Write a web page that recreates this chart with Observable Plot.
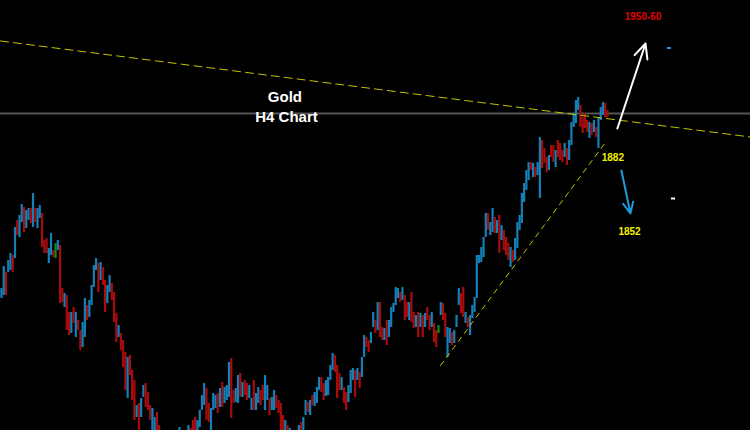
<!DOCTYPE html>
<html><head><meta charset="utf-8">
<script src="https://cdn.jsdelivr.net/npm/d3@7"></script>
<script src="https://cdn.jsdelivr.net/npm/@observablehq/plot@0.6"></script>
<style>html,body{margin:0;padding:0;background:#000;overflow:hidden}</style>
</head><body><div id="chart"></div>
<script>
// H4 bar ranges (price)
const high = [
 1828.8,1837.6,1835.2,1840,1842.8,1842,1853.2,1856,1858,1862.4, 1861.2,1860,1860.8,1860.8,1866.8,1860.8,1860.8,1862,1858.8,1848,
 1848.8,1844.8,1850.8,1844,1846.8,1848,1846,1828.8,1826.8,1826, 1819.2,1819.2,1821.2,1819.2,1816,1812,1815.2,1824.8,1822,1824,
 1830,1838,1840.8,1838.8,1839.2,1837.2,1832,1830,1834,1830.8, 1827.2,1818.8,1814,1810.8,
 1808,1803.2,1801.2,1802,1796,1792,1782,1782.8,1784.8,1790, 1790.8,1787.2,1782,1780.8,1777.2,1779.2,1774,1772,1768,1770,
 1768.8,1766,1768,1771.2,1769.6,1773.2,1770.8,1769.6,1772,1774, 1772.8,1776,1777.2,1776,1780,1786,1790.8,1788.8,1782.8,1780.8,
 1786.8,1786,1786.8,1788.8,1791.2,1789.2,1790,1799.2,1800.8,1788, 1788.8,1794,1794.8,1791.2,1792,1790.8,1790,1784.8,
 1792,1786.8,1789.2,1788,1790,1794,1790,1784.8,1785.2,1788, 1786,1784,1782.8,1778,1776,1774,1772.8,1771.2,1770,1772,
 1774,1775.2,1777.2,1784,1783.2,1784,1786,1787.2,1789.2,1793.2, 1793.2,1790.8,1792,1793.2,1798,1802.8,1802,1798,1794.8,1793.2,
 1789.2,1787.2,1790,1796,1796.8,1796,1796.8,1795.2,1801.2,
 1810,1809.2,1808,1811.2,1819.2,1816,1823.2,1823.2,1813.2,1812.8, 1816,1816,1821.2,1822.8,1829.2,1828.8,1827.2,1829.2,1826,1823.2,
 1823.2,1827.2,1819.2,1818,1819.2,1818.8,1818,1818.8,1821.2,1818, 1819.2,1814.8,1812,1814,1823.2,1822.8,1818.8,1813.2,1812.8,1811.2,
 1812,1818,1828.8,1826.8,1829.2,1819.2,1817.2,1818,1822,1825.2, 1842,
 1842,1845.2,1849.2,1858.8,1858.8,1855.2,1860.8,1857.2,1856,1858, 1854,1852,1849.2,1846.8,1845.2,1844,1848.8,1855.2,1858,1866.8,
 1870.8,1876,1879.2,1879.2,1878.8,1877.2,1879.2,1889.2,1888,1884.8, 1881.2,1882,1886,1886,1884,1888,1886.8,1884,1886.8,1884.8,
 1888,1895.2,1898.8,1904,1905.2,1902,1897.2,1898.8,1896,1895.2, 1894.8,1896,1893.2,1897.2,1901.2,1903.2,1902.8,1900
];
const low = [
 1824.8,1826,1826,1835.2,1836,1835.2,1840.8,1850,1849.2,1855.2, 1851.2,1852.8,1856,1854.8,1853.2,1855.2,1852.8,1856.8,1845.2,1842.8,
 1842.8,1838.8,1842,1841.2,1840.8,1844,1822.8,1823.2,1821.2,1812, 1810,1810.8,1814.8,1809.2,1812,1804,1805.2,1809.2,1816,1817.2,
 1822,1829.2,1836,1827.2,1832,1830,1819.2,1822.8,1827.2,1824, 1815.2,1807.2,1809.2,1804,
 1797.2,1788,1784.8,1794,1784,1776,1777.2,1772,1777.2,1785.2, 1781.2,1780,1776,1772,1771.2,1770,1766,1762,1760,1762,
 1760.8,1758,1759.2,1764,1763.2,1766,1764.8,1763.2,1766,1768, 1767.2,1768.8,1771.2,1770,1773.2,1780,1782,1776,1775.2,1772,
 1780,1780.8,1778.8,1781.2,1781.2,1782.8,1784,1785.2,1776.8,1782.8, 1783.2,1782.8,1785.2,1785.2,1786,1784,1784.8,1780,
 1780,1780,1782.8,1782,1784,1780,1784,1778,1780,1780, 1780.8,1778.8,1772,1771.2,1768.8,1768,1766,1764.8,1764,1766,
 1768,1769.6,1771.2,1778,1779.2,1778,1782,1781.6,1782.8,1788, 1787.2,1784,1785.6,1786,1792,1796,1795.2,1784.8,1788,1788,
 1782.8,1780,1783.2,1786.8,1792,1785.2,1792,1788.8,1793.2,
 1801.2,1805.2,1803.2,1806.8,1813.2,1810.8,1812,1809.2,1808,1808, 1806,1809.2,1813.2,1819.2,1822,1824.8,1823.2,1824,1816,1817.2,
 1816,1815.2,1812.8,1813.2,1809.2,1813.2,1809.2,1813.2,1816,1812, 1813.2,1807.2,1805.2,1810.8,1818,1816,1809.2,1801.2,1806.8,1806,
 1806.8,1813.2,1822,1818.8,1817.2,1814.8,1813.2,1810,1816.8,1819.2, 1824.8,
 1838.8,1839.2,1841.2,1849.2,1852,1850,1851.2,1850.8,1850.8,1842.8, 1848,1844,1842,1840,1837.2,1839.2,1840,1844.8,1852,1854.8,
 1863.2,1868,1872,1876,1873.2,1873.2,1874,1864.8,1876.8,1878.8, 1875.2,1876,1881.2,1879.2,1877.2,1881.2,1880,1879.2,1881.2,1878,
 1880,1886,1893.2,1894.8,1900,1893.2,1890.8,1892.8,1891.2,1888.8, 1890,1891.2,1889.2,1884.8,1896,1898,1897.2,1897.2
];
// u = up bar, d = down bar, n = neutral bar
const dir = (
 "uuduududuu"+"duududuudd"+"duudnuddud"+"dududduudu"+"uuududduud"+"ddud"+
 "dduddduduu"+"ddduuddduu"+"dduududduu"+"ddduuuuddu"+"uududuuudd"+"uududduu"+
 "duudduuduu"+"ddddududdu"+"uduududuuu"+"dduuuudddu"+"dduuududu"+
 "udduududdu"+"duuuuududd"+"uddudududd"+"uddnudduud"+"uuudduduuu"+"u"+
 "uuuuduudud"+"uddduduuuu"+"uuududuudd"+"duddudddud"+"uuuuuddddu"+"duduuudd"
).split("");

const resistance = [{bar: -0.44, price: 1927.8}, {bar: 332.5, price: 1889.4}];
const support = [{bar: 194.9, price: 1798}, {bar: 268.1, price: 1887.2}];
const grayLevel = [1898.8];
const upArrow = [{bar1: 273.4, p1: 1892.8, bar2: 285.9, p2: 1926.8}];
const downArrow = [{bar1: 275.2, p1: 1876, bar2: 279.2, p2: 1858.8}];
const titleLabels = [{bar: 125.8, price: 1905.2, text: "Gold"}, {bar: 126.5, price: 1897.2, text: "H4 Chart"}];
const levelLabels = [{bar: 271.4, price: 1881, text: "1882"}, {bar: 278.8, price: 1851.4, text: "1852"}];
const targetLabels = [{bar: 284.8, price: 1937.6, text: "1950-60"}];
const blueMarks = [{bar1: 295.6, bar2: 297.4, price: 1925}];
const whiteMarks = [{bar1: 297.4, bar2: 299.2, price: 1864.8}];

const bars = high.map((h, i) => ({i, high: h, low: low[i], dir: dir[i]}));

const chart = Plot.plot({
  width: 750, height: 430, margin: 0,
  x: {domain: [-0.44, 332.5], axis: null},
  y: {domain: [1772, 1944], axis: null},
  color: {domain: ["u", "d", "n"], range: ["#1580b8", "#a80c0c", "#138a13"]},
  style: {background: "#000", fontFamily: "'Liberation Sans', Arial, sans-serif"},
  marks: [
    Plot.ruleY(grayLevel, {stroke: "#555555", strokeWidth: 2}),
    Plot.ruleX(bars, {x: "i", y1: "low", y2: "high", stroke: "dir", strokeWidth: 2.2, clip: true}),
    Plot.line(resistance, {x: "bar", y: "price", stroke: "#c4c400", strokeWidth: 1, strokeDasharray: "8,5"}),
    Plot.line(support, {x: "bar", y: "price", stroke: "#c4c400", strokeWidth: 1, strokeDasharray: "5,5"}),
    Plot.arrow(upArrow, {x1: "bar1", y1: "p1", x2: "bar2", y2: "p2", stroke: "#ffffff", strokeWidth: 2, headLength: 12, headAngle: 50}),
    Plot.arrow(downArrow, {x1: "bar1", y1: "p1", x2: "bar2", y2: "p2", stroke: "#1e9bdc", strokeWidth: 2, headLength: 9, headAngle: 50}),
    Plot.text(titleLabels, {x: "bar", y: "price", text: "text", fill: "#ffffff", fontSize: 15, fontWeight: "bold"}),
    Plot.text(levelLabels, {x: "bar", y: "price", text: "text", fill: "#f0f000", fontSize: 10, fontWeight: "bold"}),
    Plot.text(targetLabels, {x: "bar", y: "price", text: "text", fill: "#e00000", fontSize: 10, fontWeight: "bold"}),
    Plot.ruleY(blueMarks, {y: "price", x1: "bar1", x2: "bar2", stroke: "#1e9bdc", strokeWidth: 2}),
    Plot.ruleY(whiteMarks, {y: "price", x1: "bar1", x2: "bar2", stroke: "#ffffff", strokeWidth: 2})
  ]
});
document.getElementById("chart").appendChild(chart);
</script>
</body></html>
